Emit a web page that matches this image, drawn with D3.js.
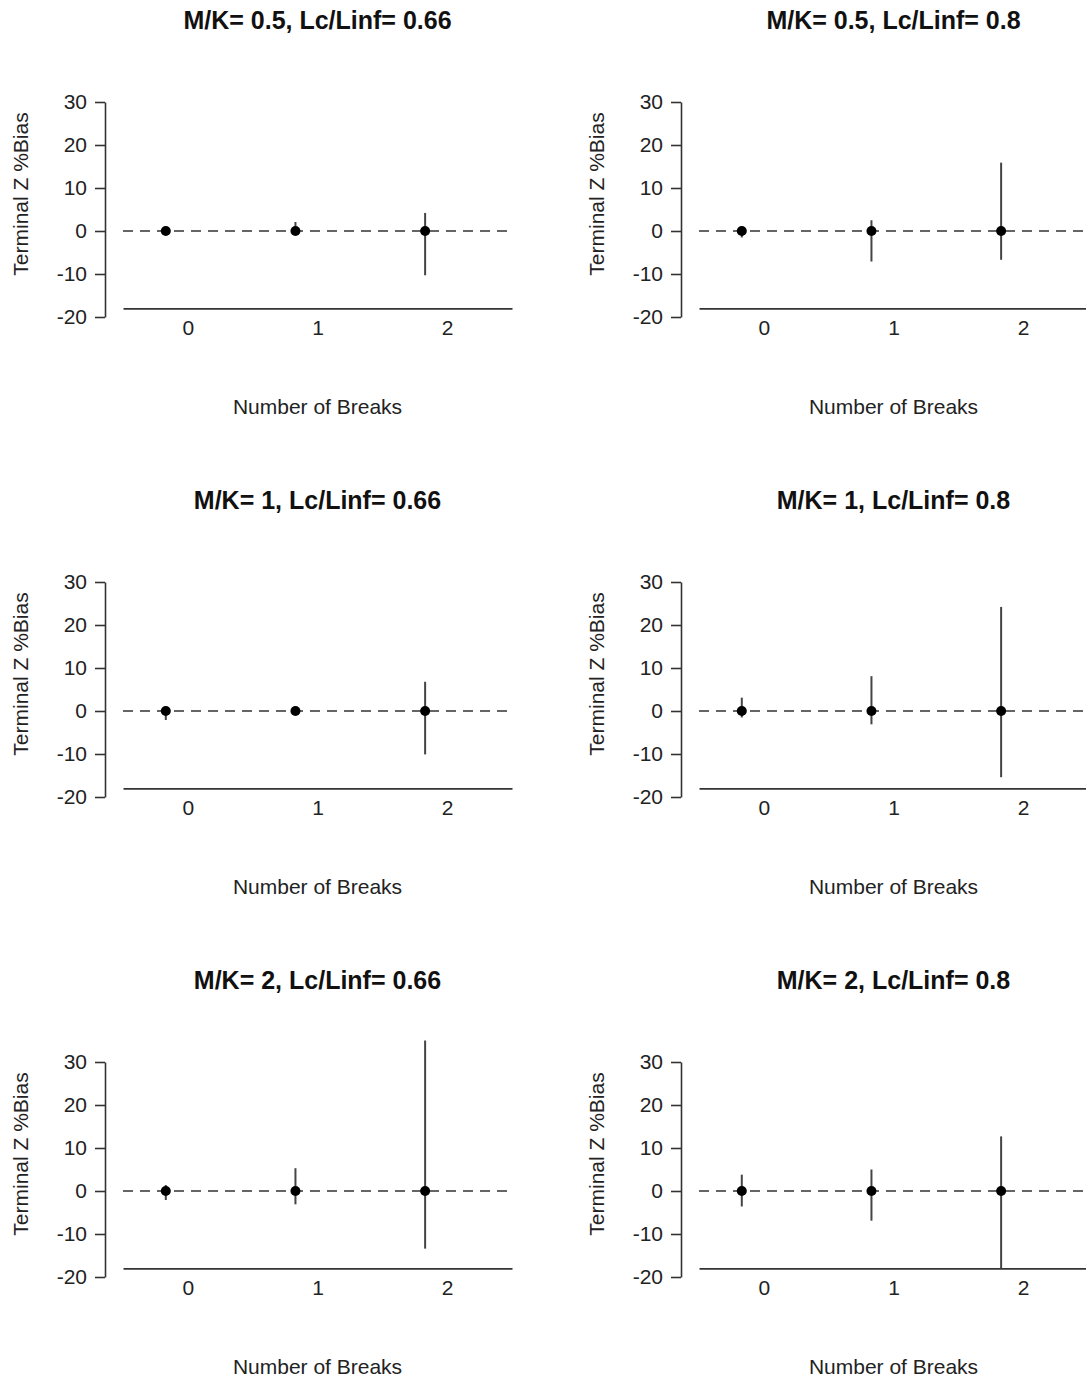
<!DOCTYPE html>
<html>
<head>
<meta charset="utf-8">
<script src="https://cdn.jsdelivr.net/npm/d3@7.9.0/dist/d3.min.js"></script>
<style>
  html, body { margin: 0; padding: 0; background: #fff; }
  svg { display: block; font-family: "Liberation Sans", Arial, sans-serif; }
</style>
</head>
<body>
<svg id="chart" width="1086" height="1381"></svg>
<script>
// panel grid: rows are M/K, columns are Lc/Linf
const mkValues = [0.5, 1, 2];
const lcValues = [0.66, 0.8];
const breaks = [0, 1, 2];
const yTicks = [-20, -10, 0, 10, 20, 30];

// median %bias (all zero) and interval ends, one row per panel (row-major)
const medianBias = [
  [0, 0, 0],
  [0, 0, 0],
  [0, 0, 0],
  [0, 0, 0],
  [0, 0, 0],
  [0, 0, 0]
];
const lowerBias = [
  [-0.4, -0.4, -10.3],
  [-1.5, -7.1, -6.7],
  [-2.1, -0.3, -10.1],
  [-1.5, -3.1, -15.4],
  [-2.1, -3.1, -13.4],
  [-3.6, -6.9, -18]
];
const upperBias = [
  [0.4, 2.1, 4.2],
  [0.5, 2.5, 15.9],
  [0.5, 0.3, 6.8],
  [3.1, 8.1, 24.2],
  [1.4, 5.3, 35],
  [3.8, 5.0, 12.7]
];

const svg = d3.select('#chart');
const colW = 576;
const rowH = 480;
const pointShift = -0.17;  // points sit a bit left of the tick label
const axisColor = '#333';

const x = d3.scaleLinear().domain([-0.5, 2.5]).range([123, 512]);
const y = d3.scaleLinear().domain([-20, 30]).range([317, 102]);
const yFloor = -18;
const plainNum = d => String(d);  // hyphen minus like R, not unicode minus

function drawPanel(g, idx, mk, lc) {
  // title
  g.append('text')
    .attr('x', x(1))
    .attr('y', 29)
    .attr('text-anchor', 'middle')
    .attr('font-size', 25)
    .attr('font-weight', 'bold')
    .attr('fill', '#111')
    .text(`M/K= ${mk}, Lc/Linf= ${lc}`);

  // y axis
  const yAxis = g.append('g')
    .attr('transform', 'translate(105,0)')
    .call(d3.axisLeft(y).tickValues(yTicks).tickFormat(plainNum)
      .tickSize(10).tickSizeOuter(0).tickPadding(8));
  yAxis.selectAll('path, line').attr('stroke', axisColor).attr('stroke-width', 1.6);
  yAxis.selectAll('text').attr('font-size', 21).attr('fill', '#222').attr('font-family', null);

  // x axis: bare line plus labels
  const xAxis = g.append('g')
    .attr('transform', `translate(0,${y(yFloor)})`)
    .call(d3.axisBottom(x).tickValues(breaks).tickFormat(plainNum)
      .tickSize(0).tickSizeOuter(0).tickPadding(12));
  xAxis.selectAll('path').attr('stroke', axisColor).attr('stroke-width', 1.6);
  xAxis.selectAll('text').attr('font-size', 21).attr('fill', '#222').attr('font-family', null);

  // axis titles
  g.append('text')
    .attr('x', x(1))
    .attr('y', 414)
    .attr('text-anchor', 'middle')
    .attr('font-size', 21)
    .attr('fill', '#222')
    .text('Number of Breaks');
  g.append('text')
    .attr('transform', 'translate(28,194) rotate(-90)')
    .attr('text-anchor', 'middle')
    .attr('font-size', 21)
    .attr('fill', '#222')
    .text('Terminal Z %Bias');

  // zero reference
  g.append('line')
    .attr('x1', x(-0.5)).attr('x2', x(2.5))
    .attr('y1', y(0)).attr('y2', y(0))
    .attr('stroke', '#333')
    .attr('stroke-width', 1.5)
    .attr('stroke-dasharray', '10,7');

  const rows = breaks.map((b, i) => ({
    b,
    mid: medianBias[idx][i],
    lo: lowerBias[idx][i],
    hi: upperBias[idx][i]
  }));

  g.selectAll('line.err')
    .data(rows)
    .join('line')
    .attr('class', 'err')
    .attr('x1', d => x(d.b + pointShift))
    .attr('x2', d => x(d.b + pointShift))
    .attr('y1', d => y(Math.max(d.lo, yFloor)))
    .attr('y2', d => y(d.hi))
    .attr('stroke', '#444')
    .attr('stroke-width', 2);

  g.selectAll('circle.pt')
    .data(rows)
    .join('circle')
    .attr('class', 'pt')
    .attr('cx', d => x(d.b + pointShift))
    .attr('cy', d => y(d.mid))
    .attr('r', 5)
    .attr('fill', '#000');
}

mkValues.forEach((mk, r) => {
  lcValues.forEach((lc, c) => {
    const g = svg.append('g').attr('transform', `translate(${c * colW},${r * rowH})`);
    drawPanel(g, r * lcValues.length + c, mk, lc);
  });
});
</script>
</body>
</html>
